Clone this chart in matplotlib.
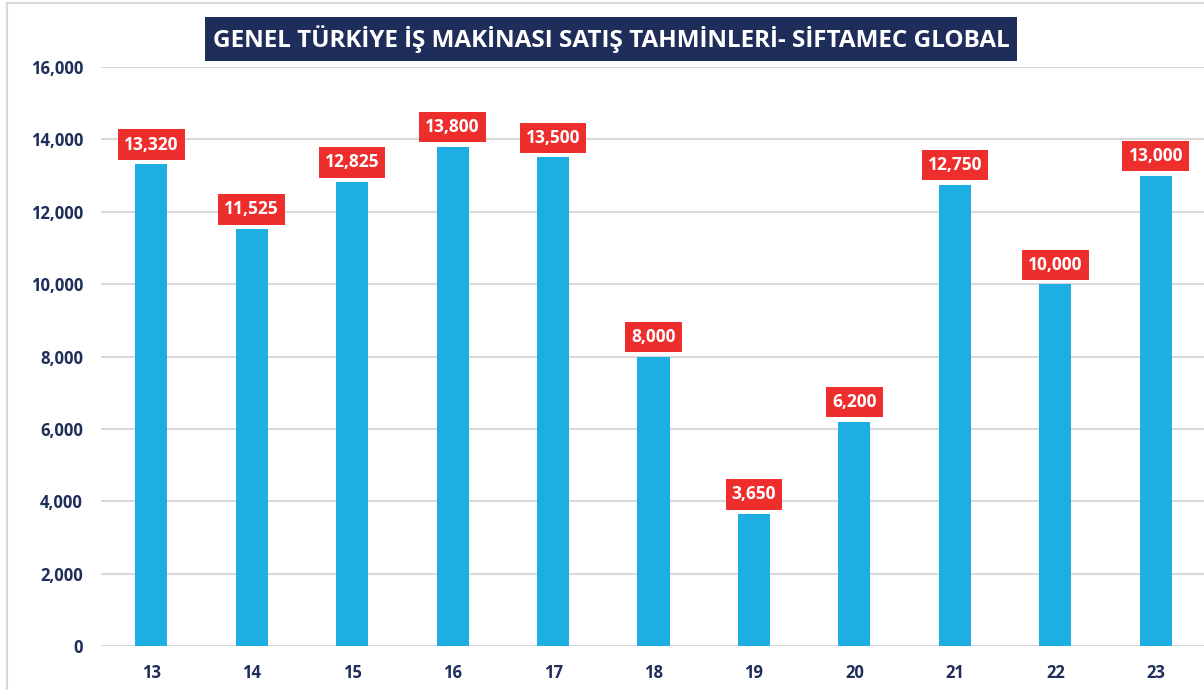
import matplotlib
matplotlib.use("Agg")
import matplotlib.pyplot as plt
from matplotlib.lines import Line2D
from matplotlib.ticker import FuncFormatter

# data
years = ["13", "14", "15", "16", "17", "18", "19", "20", "21", "22", "23"]
sales = [13320, 11525, 12825, 13800, 13500, 8000, 3650, 6200, 12750, 10000, 13000]

TITLE = "GENEL TÜRKİYE İŞ MAKİNASI SATIŞ TAHMİNLERİ- SİFTAMEC GLOBAL"
NAVY = "#1F2D5A"
BAR = "#1DAEE3"
RED = "#EE2D2D"
GRID = "#D9D9D9"

plt.rcParams['font.family'] = ['Open Sans', 'DejaVu Sans']

fig = plt.figure(figsize=(12.04, 6.9), dpi=100)
ax = fig.add_axes([101 / 1204, 44 / 690, 1105 / 1204, 579 / 690])

x = list(range(len(years)))
ax.bar(x, sales, width=0.32, color=BAR, zorder=3)

ax.set_xlim(-0.5, len(years) - 0.5)
ax.set_ylim(0, 16000)
ax.set_yticks(range(0, 16001, 2000))
ax.yaxis.set_major_formatter(FuncFormatter(lambda v, p: f"{int(v):,}"))
ax.set_xticks(x)
ax.set_xticklabels(years)
ax.grid(axis="y", color=GRID, lw=1.5, zorder=0)
for s in ax.spines.values():
    s.set_visible(False)
ax.tick_params(length=0, labelsize=12, labelcolor=NAVY)
ax.tick_params(axis="x", pad=13)
ax.tick_params(axis="y", pad=13)
for t in ax.get_xticklabels() + ax.get_yticklabels():
    t.set_fontweight("bold")

# value labels in red boxes
for xi, v in zip(x, sales):
    ax.annotate(f"{v:,}", (xi, v), xytext=(0, 14), textcoords="offset points",
                ha="center", va="center", color="white", fontsize=12.5,
                fontweight="bold", zorder=5,
                bbox=dict(boxstyle="square,pad=0.35", fc=RED, ec="none"))

# title box
fig.text(611 / 1204, 1 - 39 / 690, TITLE, ha="center", va="center",
         color="white", fontsize=17.5, fontweight="bold",
         bbox=dict(boxstyle="square,pad=0.32", fc=NAVY, ec="none"))

# chart frame lines
fig.add_artist(Line2D([7 / 1204, 7 / 1204], [0, 1 - 3 / 690], color=GRID, lw=1.5))
fig.add_artist(Line2D([7 / 1204, 1], [1 - 3 / 690, 1 - 3 / 690], color=GRID, lw=1.5))

fig.savefig("out.png", dpi=100)
